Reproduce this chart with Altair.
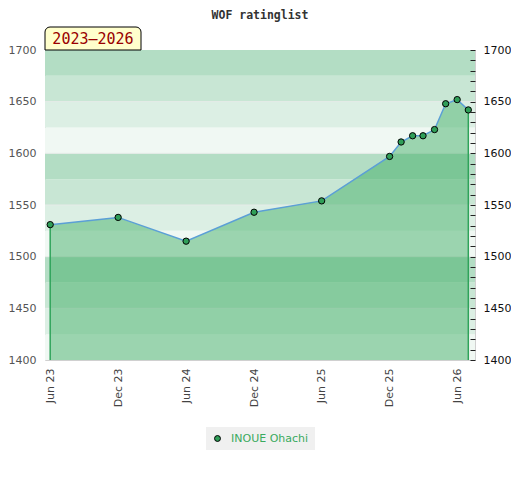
import altair as alt
import pandas as pd

# ---- data ----
dates = ["2023-06-01", "2023-12-01", "2024-06-01", "2024-12-01", "2025-06-01",
         "2025-12-01", "2026-01-01", "2026-02-01", "2026-03-01", "2026-04-01",
         "2026-05-01", "2026-06-01", "2026-07-01"]
ratings = [1531, 1538, 1515, 1543, 1554, 1597, 1611, 1617, 1617, 1623, 1648, 1652, 1642]
player = "INOUE Ohachi"
title_text = "WOF ratinglist"
period_label = "2023\u20132026"
x_tick_dates = ["2023-06-01", "2023-12-01", "2024-06-01", "2024-12-01",
                "2025-06-01", "2025-12-01", "2026-06-01"]
x_domain = ["2023-05-18", "2026-07-19"]
y_domain = [1400, 1700]
y_label_values = [1400, 1450, 1500, 1550, 1600, 1650, 1700]
y_minor_values = list(range(1400, 1701, 10))
grid_values = [1450, 1500, 1550, 1600, 1650]
band_starts = list(range(1400, 1700, 25))

# ---- styles ----
band_colors = ["#f0f8f3", "#dcefe4", "#c8e6d4", "#b3ddc4"]
W, H = 430, 310


def ms(d):
    return int(pd.Timestamp(d, tz="UTC").timestamp() * 1000)


df = pd.DataFrame({"date": dates, "rating": ratings, "player": player})
ends = df.iloc[[0, len(df) - 1]]
bands = pd.DataFrame({
    "lo": band_starts,
    "hi": [b + 25 for b in band_starts],
    "shade": [((b - 1400) % 100) // 25 for b in band_starts],
})
grid = pd.DataFrame({"v": grid_values})

xscale = alt.Scale(type="utc", domain=[ms(x_domain[0]), ms(x_domain[1])])
yscale = alt.Scale(domain=y_domain, nice=False, zero=False)

left_axis = alt.Axis(orient="left", values=y_label_values, format="d", ticks=False, domain=False,
                     grid=False, labelColor="#555", labelPadding=9, title=None)
right_axis = alt.Axis(orient="right", values=y_minor_values, format="d",
                      labelExpr="datum.value % 50 === 0 ? datum.label : ''",
                      tickSize=5, offset=-5, tickColor="#222", labelColor="#111",
                      labelPadding=8, domain=False, grid=False, title=None, zindex=2)
x_axis = alt.Axis(values=[ms(d) for d in x_tick_dates],
                  labelExpr="utcFormat(datum.value, '%b %y')",
                  labelAngle=270, ticks=False, domain=False, grid=False,
                  labelColor="#444", labelPadding=8, title=None)
X = alt.X("date:T", scale=xscale, axis=x_axis)

band_layer = alt.Chart(bands).mark_rect().encode(
    x=alt.value(0), x2=alt.value(W),
    y=alt.Y("lo:Q", scale=yscale, axis=left_axis),
    y2="hi:Q",
    color=alt.Color("shade:O", scale=alt.Scale(domain=[0, 1, 2, 3], range=band_colors), legend=None),
)

grid_layer = alt.Chart(grid).mark_rule(color="#e6ebe8", strokeWidth=1).encode(
    x=alt.value(0), x2=alt.value(W),
    y=alt.Y("v:Q", scale=yscale, axis=None),
)

area_layer = alt.Chart(df).mark_area(color="#3dac64", opacity=0.475).encode(
    x=X,
    y=alt.Y("rating:Q", scale=yscale, axis=None),
    y2=alt.datum(1400),
)

end_layer = alt.Chart(ends).mark_rule(color="#2fa35a", strokeWidth=1.5).encode(
    x=X,
    y=alt.Y("rating:Q", scale=yscale, axis=None),
    y2=alt.datum(1400),
)

line_layer = alt.Chart(df).mark_line(color="#5b9fd6", strokeWidth=1.5).encode(
    x=X,
    y=alt.Y("rating:Q", scale=yscale, axis=None),
)

point_layer = alt.Chart(df).mark_point(filled=True, size=40, stroke="black",
                                       strokeWidth=1, opacity=1).encode(
    x=X,
    y=alt.Y("rating:Q", scale=yscale, axis=right_axis),
    color=alt.Color("player:N", scale=alt.Scale(domain=[player], range=["#2f9e58"]),
                    legend=alt.Legend(title=None, orient="none", legendX=161, legendY=377,
                                      fillColor="#f0f0f0", padding=6, labelOffset=8,
                                      labelColor="#3aaa5e", labelFont="DejaVu Sans",
                                      labelFontSize=11, symbolType="circle", symbolSize=35,
                                      symbolStrokeColor="black", symbolStrokeWidth=1)),
)

badge_df = pd.DataFrame({"t": [period_label]})
badge_rect = alt.Chart(badge_df).mark_rect(
    fill="#ffffcc", stroke="black", strokeWidth=1,
    cornerRadiusTopLeft=5, cornerRadiusTopRight=5,
).encode(x=alt.value(0), x2=alt.value(96), y=alt.value(-23), y2=alt.value(0))
badge_text = alt.Chart(badge_df).mark_text(
    font="DejaVu Sans Mono", fontSize=15, color="#990000", align="center", baseline="middle",
).encode(text="t:N", x=alt.value(48), y=alt.value(-11))

chart = alt.layer(
    band_layer, grid_layer, area_layer, end_layer, line_layer, point_layer,
    badge_rect, badge_text,
).resolve_scale(
    y="independent", color="independent",
).properties(
    width=W, height=H,
    title=alt.Title(title_text, font="DejaVu Sans Mono", fontSize=11.5, fontWeight="bold",
                    color="#333", offset=5),
    padding={"left": 0, "right": 0, "top": 2, "bottom": 0},
).configure_view(
    stroke="#d0d0d0", strokeWidth=1,
).configure_axis(
    labelFont="DejaVu Sans", labelFontSize=11,
)

chart.save("out.html", embed_options={"renderer": "svg", "actions": False})
